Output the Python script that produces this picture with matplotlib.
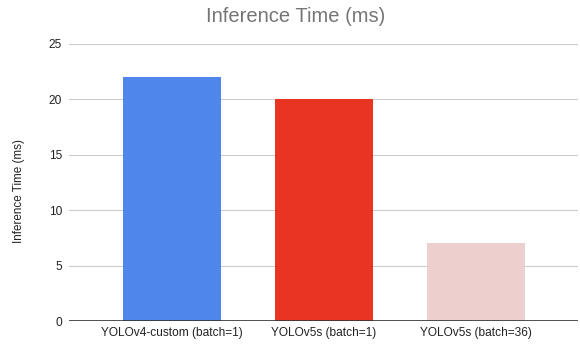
import matplotlib
matplotlib.use("Agg")
import matplotlib.pyplot as plt

plt.rcParams["font.family"] = ["Liberation Sans", "DejaVu Sans"]

# Inference time per model configuration
models = ["YOLOv4-custom (batch=1)", "YOLOv5s (batch=1)", "YOLOv5s (batch=36)"]
times_ms = [22, 20, 7]
bar_colors = ["#4F86EC", "#E93323", "#EDCFCD"]
y_ticks = [0, 5, 10, 15, 20, 25]

fig = plt.figure(figsize=(5.8, 3.44), dpi=100)
ax = fig.add_axes([69 / 580, 1 - 321 / 344, 509 / 580, 277 / 344])

x = range(len(models))
ax.bar(x, times_ms, width=0.645, color=bar_colors, zorder=3)

ax.set_xlim(-0.678, 2.67)
ax.set_ylim(0, 25)
ax.set_yticks(y_ticks)
ax.set_xticks(list(x))
ax.set_xticklabels(models, fontsize=8.6)

ax.grid(axis="y", color="#CCCCCC", linewidth=0.8, zorder=0)
ax.axhline(0, color="#333333", linewidth=1.2, zorder=4)
for s in ax.spines.values():
    s.set_visible(False)
ax.tick_params(axis="both", length=0, colors="#222222")
ax.tick_params(axis="y", labelsize=8.6, pad=5)
ax.tick_params(axis="x", pad=4)

ax.set_ylabel("Inference Time (ms)", fontsize=8.4, color="#222222")
ax.yaxis.set_label_coords(-(69 - 25) / 509, 0.47)
fig.text(296 / 580, 1 - 16 / 344, "Inference Time (ms)", ha="center", va="center",
         fontsize=14.5, color="#757575")

fig.savefig("out.png", dpi=100)
